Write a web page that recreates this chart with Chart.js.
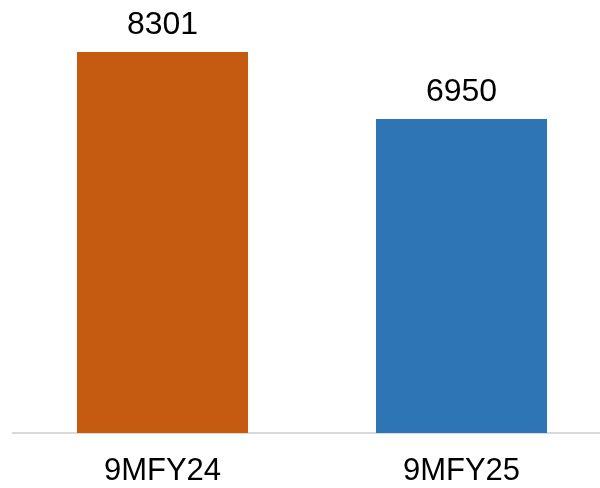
<!DOCTYPE html>
<html>
<head>
<meta charset="utf-8">
<script src="https://cdn.jsdelivr.net/npm/chart.js@4"></script>
<style>
html,body{margin:0;padding:0;background:#fff;}
canvas{display:block;}
</style>
</head>
<body>
<canvas id="c" width="600" height="488"></canvas>
<script>
const categories = ['9MFY24', '9MFY25'];
const values = [8301, 6950];
const barColors = ['#C55A11', '#2E75B6'];

const valueLabels = {
  id: 'valueLabels',
  afterLayout(chart) {
    const x = chart.scales.x;
    x.right = 611;
    x.width = x.right - x.left;
    x.configure();
  },
  afterDatasetsDraw(chart) {
    const ctx = chart.ctx;
    const meta = chart.getDatasetMeta(0);
    ctx.save();
    ctx.font = '32px "Liberation Sans", Arial, sans-serif';
    ctx.fillStyle = '#000';
    ctx.textAlign = 'center';
    ctx.textBaseline = 'alphabetic';
    meta.data.forEach((bar, i) => {
      ctx.fillText(String(values[i]), bar.x, bar.y - 18);
    });
    ctx.restore();
  }
};

new Chart(document.getElementById('c'), {
  type: 'bar',
  data: {
    labels: categories,
    datasets: [{
      data: values,
      backgroundColor: barColors,
      borderWidth: 0,
      categoryPercentage: 1,
      barPercentage: 0.572
    }]
  },
  options: {
    responsive: false,
    devicePixelRatio: 1,
    animation: false,
    layout: { padding: { left: 13, right: 0, top: 0, bottom: 0 } },
    plugins: { legend: { display: false }, tooltip: { enabled: false } },
    scales: {
      x: {
        grid: { display: false, drawTicks: false },
        border: { display: true, color: '#d9d9d9', width: 2 },
        afterFit(s) { s.height = 55; },
        ticks: {
          color: '#000',
          padding: 19.6,
          maxRotation: 0,
          autoSkip: false,
          font: { family: '"Liberation Sans", Arial, sans-serif', size: 31 }
        }
      },
      y: {
        display: false,
        min: 620,
        max: 9350
      }
    }
  },
  plugins: [valueLabels]
});
</script>
</body>
</html>
